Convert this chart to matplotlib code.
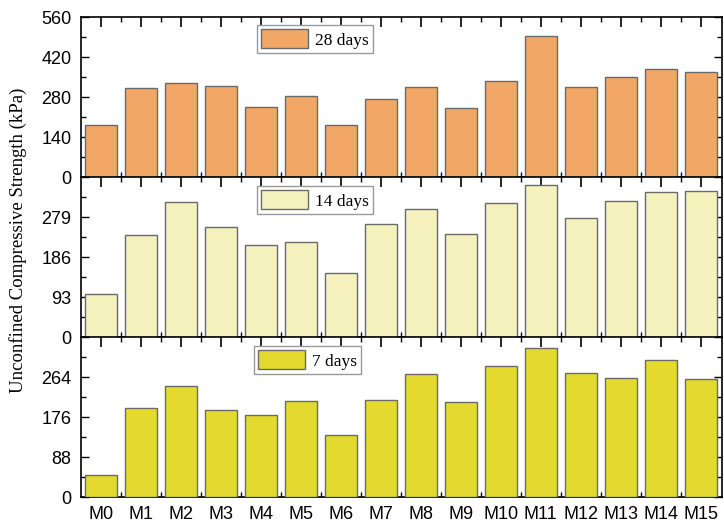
import matplotlib
matplotlib.use("Agg")
import matplotlib.pyplot as plt
from matplotlib.ticker import MultipleLocator, FixedLocator
import numpy as np

categories = ["M0", "M1", "M2", "M3", "M4", "M5", "M6", "M7",
              "M8", "M9", "M10", "M11", "M12", "M13", "M14", "M15"]
days28 = [182, 310, 328, 317, 246, 283, 182, 274, 316, 243, 335, 495, 315, 351, 378, 368]
days14 = [101, 238, 313, 257, 214, 222, 149, 263, 297, 240, 312, 354, 277, 317, 337, 340]
days7 = [49, 197, 245, 191, 182, 211, 136, 215, 271, 209, 289, 328, 274, 262, 301, 260]

series = [
    ("28 days", days28, "#F2A766", 140, 560, True),
    ("14 days", days14, "#F5F2BE", 93, 372, False),
    ("7 days", days7, "#E4DA2F", 88, 352, False),
]

W, H = 724, 526
fig = plt.figure(figsize=(W / 100, H / 100), dpi=100)

left = 81.3 / W
width = 640.4 / W
tops = [17, 177, 337.3]
bottoms = [177, 337.3, 497.3]
legend_pos = [(257, 25), (257, 186), (254, 346)]

x = np.arange(len(categories))
tickfont = {"family": "Liberation Sans", "size": 13}

for i, (name, vals, color, step, ymax, show_top) in enumerate(series):
    y0 = 1 - bottoms[i] / H
    h = (bottoms[i] - tops[i]) / H
    ax = fig.add_axes([left, y0, width, h])
    ax.bar(x, vals, width=0.8, color=color, edgecolor="#6a6a6a", linewidth=1.0,
           zorder=3, label=name)
    ax.set_xlim(-0.485, 15.525)
    ax.set_ylim(0, ymax)
    major = list(np.arange(0, ymax + 0.1, step))
    if not show_top:
        major_labels = major[:-1]
    else:
        major_labels = major
    ax.yaxis.set_major_locator(FixedLocator(major))
    ax.set_yticklabels([f"{int(v)}" if v in major_labels else "" for v in major],
                       fontdict=tickfont)
    ax.yaxis.set_minor_locator(MultipleLocator(step / 2))
    ax.xaxis.set_major_locator(FixedLocator(x))
    ax.xaxis.set_minor_locator(FixedLocator(x[:-1] + 0.5))
    ax.tick_params(axis="both", which="both", direction="in", top=True, right=True,
                   color="black")
    ax.tick_params(axis="x", which="major", length=7, width=1.2)
    ax.tick_params(axis="x", which="minor", length=3.5, width=1.0)
    ax.tick_params(axis="y", which="major", length=6, width=1.0, pad=7)
    ax.tick_params(axis="y", which="minor", length=3.5, width=1.0)
    if i == 2:
        ax.set_xticklabels(categories, fontdict=tickfont)
        ax.tick_params(axis="x", which="major", pad=6)
    else:
        ax.set_xticklabels([])
    for sp in ax.spines.values():
        sp.set_linewidth(1.2)
        sp.set_color("black")
    lx, ly = legend_pos[i]
    bx = (lx - 81.3) / 640.4
    by = (bottoms[i] - ly) / (bottoms[i] - tops[i])
    leg = ax.legend(loc="upper left", bbox_to_anchor=(bx, by), borderaxespad=0,
                    fancybox=False, prop={"family": "Liberation Serif", "size": 12.5},
                    handlelength=2.7, handleheight=1.3, handletextpad=0.4,
                    borderpad=0.25, framealpha=1, edgecolor="#999999")
    leg.get_frame().set_linewidth(1.0)
    leg.set_zorder(5)

fig.text(0.025, 1 - 240 / H, "Unconfined Compressive Strength (kPa)",
         rotation=90, va="center", ha="center",
         family="Liberation Serif", fontsize=13.5)

fig.savefig("out.png", dpi=100)
